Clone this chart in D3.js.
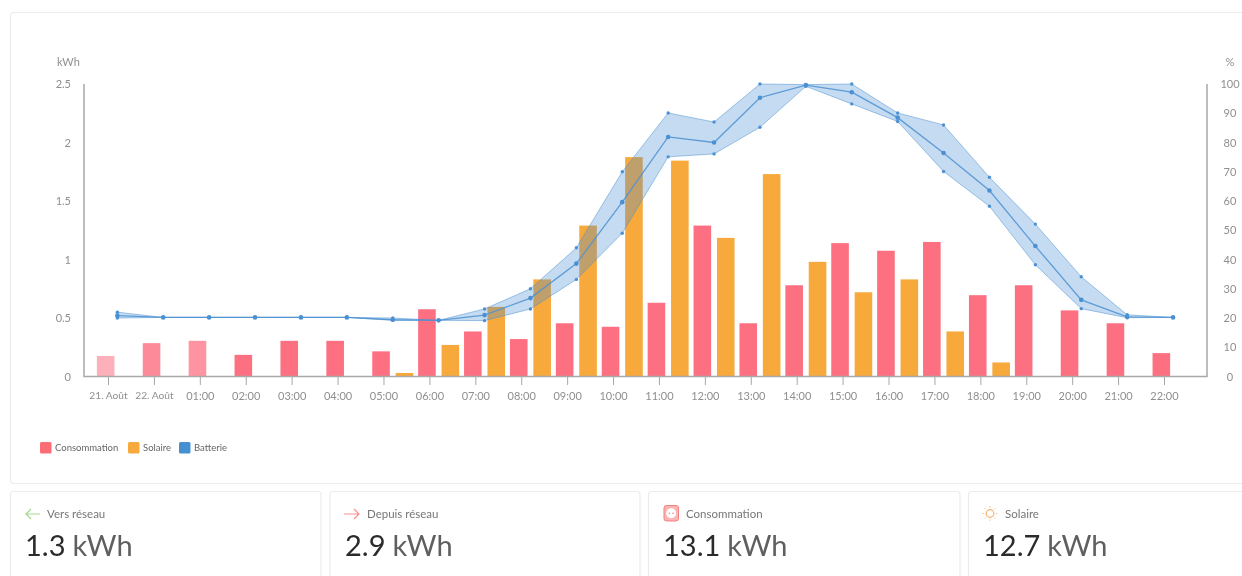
<!DOCTYPE html>
<html>
<head>
<meta charset="utf-8">
<script src="https://cdn.jsdelivr.net/npm/d3@7"></script>
<style>
  html, body { margin: 0; background: #fff; overflow: hidden; }
  svg { display: block; font-family: "Lato", "Open Sans", sans-serif; filter: blur(0.35px); }
</style>
</head>
<body>
<div id="chart"></div>
<script>
const categories = ["21. Août", "22. Août", "01:00", "02:00", "03:00", "04:00", "05:00", "06:00", "07:00", "08:00", "09:00", "10:00", "11:00", "12:00", "13:00", "14:00", "15:00", "16:00", "17:00", "18:00", "19:00", "20:00", "21:00", "22:00"];
const consommation = [0.175, 0.285, 0.305, 0.185, 0.305, 0.305, 0.215, 0.575, 0.385, 0.32, 0.455, 0.425, 0.63, 1.29, 0.455, 0.78, 1.14, 1.075, 1.15, 0.695, 0.78, 0.565, 0.455, 0.2];
const solaire = [0, 0, 0, 0, 0, 0, 0.03, 0.27, 0.595, 0.83, 1.29, 1.875, 1.845, 1.185, 1.73, 0.98, 0.72, 0.83, 0.385, 0.12, 0, 0, 0, 0];
const batterieMoy = [20.8, 20.2, 20.2, 20.2, 20.2, 20.2, 19.4, 19.2, 21, 26.8, 38.6, 59.6, 81.9, 80, 95.3, 99.6, 97.2, 88.5, 76.4, 63.6, 44.6, 26.2, 20.4, 20.2];
const batterieMin = [20, 20.2, 20.2, 20.2, 20.2, 20.2, 19.2, 19.2, 19.1, 23.1, 33.2, 49, 75.1, 76.1, 85.2, 99.2, 93.2, 87.2, 70.1, 58.2, 38.2, 23.2, 20.1, 20.2];
const batterieMax = [22, 20.2, 20.2, 20.2, 20.2, 20.2, 20, 19.2, 23.1, 30, 44, 70, 90.1, 87, 100, 99.8, 100, 90.1, 86, 68.1, 52.1, 34.1, 21.1, 20.2];
const barOpacity = [0.55, 0.82, 0.75, 1, 1, 1, 1, 1, 1, 1, 1, 1, 1, 1, 1, 1, 1, 1, 1, 1, 1, 1, 1, 1];
const kwhTicks = [0, 0.5, 1, 1.5, 2, 2.5];
const pctTicks = [0, 10, 20, 30, 40, 50, 60, 70, 80, 90, 100];
const legendItems = ["Consommation", "Solaire", "Batterie"];
const cardLabels = ["Vers réseau", "Depuis réseau", "Consommation", "Solaire"];
const cardValues = ["1.3", "2.9", "13.1", "12.7"];

const RED = "#fd7082", ORANGE = "#f7a93c", BLUE = "#4a90d2", AXIS = "#a8a8a8", TXT = "#8f8f8f";

const width = 1242, height = 576;
const plot = { left: 84, right: 1207, top: 84, bottom: 376.5 };

const svg = d3.select("#chart").append("svg").attr("width", width).attr("height", height);

// panel borders
svg.append("rect").attr("x", 10.5).attr("y", 12.5).attr("width", 1260).attr("height", 471)
  .attr("rx", 3).attr("fill", "#fff").attr("stroke", "#ececec").attr("stroke-width", 1.2);

// Scales
const xBand = d3.scaleBand().domain(categories).range([94.4, 1196]);
const xTick = d3.scalePoint().domain(categories).range([108, 1164]);
const xGroup = d3.scaleBand().domain(["consommation", "solaire"]).range([0, 41]).paddingInner(0.248);
const yKwh = d3.scaleLinear().domain([0, 2.5]).range([plot.bottom, plot.top]);
const yPct = d3.scaleLinear().domain([0, 100]).range([plot.bottom, plot.top]);
const cx = d => xBand(d) + xBand.bandwidth() / 2;
const groupLeft = d => cx(d) - 20.5;

// Bars
const drawBars = (values, key, color) => {
  svg.append("g").selectAll("rect")
    .data(categories.map((c, i) => ({ c, v: values[i], o: barOpacity[i] })).filter(d => d.v > 0))
    .join("rect")
    .attr("x", d => groupLeft(d.c) + xGroup(key))
    .attr("y", d => yKwh(d.v))
    .attr("width", xGroup.bandwidth())
    .attr("height", d => yKwh(0) - yKwh(d.v))
    .attr("fill", color)
    .attr("opacity", d => d.o);
};
drawBars(consommation, "consommation", RED);
drawBars(solaire, "solaire", ORANGE);

// Battery band + mean line
const area = d3.area()
  .x(d => cx(d))
  .y0((d, i) => yPct(batterieMin[i]))
  .y1((d, i) => yPct(batterieMax[i]));
svg.append("path").datum(categories).attr("d", area)
  .attr("fill", BLUE).attr("fill-opacity", 0.32)
  .attr("stroke", BLUE).attr("stroke-opacity", 0.5).attr("stroke-width", 1);
const line = d3.line().x(d => cx(d)).y((d, i) => yPct(batterieMoy[i]));
svg.append("path").datum(categories).attr("d", line)
  .attr("fill", "none").attr("stroke", BLUE).attr("stroke-opacity", 0.85).attr("stroke-width", 1.3);

const drawDots = (values, r) => {
  svg.append("g").selectAll("circle").data(categories).join("circle")
    .attr("cx", d => cx(d))
    .attr("cy", (d, i) => yPct(values[i]))
    .attr("r", r).attr("fill", BLUE);
};
drawDots(batterieMin, 1.7);
drawDots(batterieMax, 1.7);
drawDots(batterieMoy, 2.3);

// Axes
const styleAxis = g => {
  g.selectAll("text").attr("fill", TXT).attr("font-size", 11).attr("font-family", "Lato, sans-serif");
  g.selectAll("line").attr("stroke", AXIS);
};
svg.append("g").attr("transform", `translate(0,${plot.bottom})`)
  .call(d3.axisBottom(xTick).tickSize(8.5).tickPadding(7))
  .call(g => g.select(".domain").remove())
  .call(styleAxis)
  .call(g => g.selectAll("text").filter(d => d.includes("Août")).attr("font-size", 10.2));
svg.append("g").attr("transform", `translate(${plot.left},0)`)
  .call(d3.axisLeft(yKwh).tickValues(kwhTicks).tickFormat(d3.format("~g")).tickSize(0).tickPadding(13))
  .call(g => g.select(".domain").remove())
  .call(styleAxis);
svg.append("g").attr("transform", `translate(${plot.right},0)`)
  .call(d3.axisRight(yPct).tickValues(pctTicks).tickSize(0).tickPadding(23))
  .call(g => g.select(".domain").remove())
  .call(styleAxis)
  .call(g => g.selectAll("text").attr("text-anchor", "middle"));

svg.append("path")
  .attr("d", d3.line()([[plot.left, plot.top], [plot.left, plot.bottom], [plot.right, plot.bottom], [plot.right, plot.top]]))
  .attr("fill", "none").attr("stroke", AXIS).attr("stroke-width", 1.5);

svg.append("text").attr("x", 57).attr("y", 66).attr("font-size", 11).attr("fill", TXT).text("kWh");
svg.append("text").attr("x", 1230).attr("y", 66).attr("font-size", 11).attr("text-anchor", "middle").attr("fill", TXT).text("%");

// Legend
const legendX = [40, 128, 179];
const legendColors = ["#fb6d75", ORANGE, "#458fd2"];
legendItems.forEach((name, i) => {
  svg.append("rect").attr("x", legendX[i]).attr("y", 442).attr("width", 11.5).attr("height", 11.5)
    .attr("rx", 1.5).attr("fill", legendColors[i]);
  svg.append("text").attr("x", legendX[i] + 15).attr("y", 451).attr("font-size", 9.5)
    .attr("fill", "#666").text(name);
});

// Summary cards
const cardX = [10, 329.5, 648, 968];
const cardW = [310.5, 310, 311.5, 320];
const cardText = [47, 367, 686, 1005];
const cardNum = [25, 345, 663, 983];
cardLabels.forEach((name, i) => {
  svg.append("rect").attr("x", cardX[i] + 0.5).attr("y", 491.5).attr("width", cardW[i]).attr("height", 110)
    .attr("rx", 3).attr("fill", "#fff").attr("stroke", "#ececec").attr("stroke-width", 1.2);
  svg.append("text").attr("x", cardText[i]).attr("y", 518).attr("font-size", 11.5).attr("fill", "#777").text(name);
  const t = svg.append("text").attr("x", cardNum[i]).attr("y", 556).attr("font-size", 29);
  t.append("tspan").attr("fill", "#2b2b2b").text(cardValues[i]);
  t.append("tspan").attr("fill", "#5f5f5f").attr("dx", 7).text("kWh");
});

// Card icons
svg.append("path").attr("d", "M40 514H26M31 509l-5 5 5 5").attr("fill", "none").attr("stroke", "#a6d78f").attr("stroke-width", 1.2);
svg.append("path").attr("d", "M344 514h15M354 509l5 5-5 5").attr("fill", "none").attr("stroke", "#f68f8f").attr("stroke-width", 1.2);
svg.append("rect").attr("x", 664).attr("y", 505.5).attr("width", 14.5).attr("height", 15.5).attr("rx", 2.5)
  .attr("fill", "#fbb4b4").attr("stroke", "#f57f7f").attr("stroke-width", 1);
svg.append("circle").attr("cx", 671.2).attr("cy", 513.2).attr("r", 5).attr("fill", "#fff");
[669.4, 673].forEach(x => svg.append("circle").attr("cx", x).attr("cy", 513.2).attr("r", 0.8).attr("fill", "#f57f7f"));
svg.append("circle").attr("cx", 990).attr("cy", 513.5).attr("r", 3.8).attr("fill", "none").attr("stroke", "#f5b06a").attr("stroke-width", 1.2);
d3.range(8).forEach(k => {
  const a = k * Math.PI / 4;
  svg.append("line")
    .attr("x1", 990 + 5.8 * Math.cos(a)).attr("y1", 513.5 + 5.8 * Math.sin(a))
    .attr("x2", 990 + 7.5 * Math.cos(a)).attr("y2", 513.5 + 7.5 * Math.sin(a))
    .attr("stroke", "#f7c592").attr("stroke-width", 1);
});
</script>
</body>
</html>
